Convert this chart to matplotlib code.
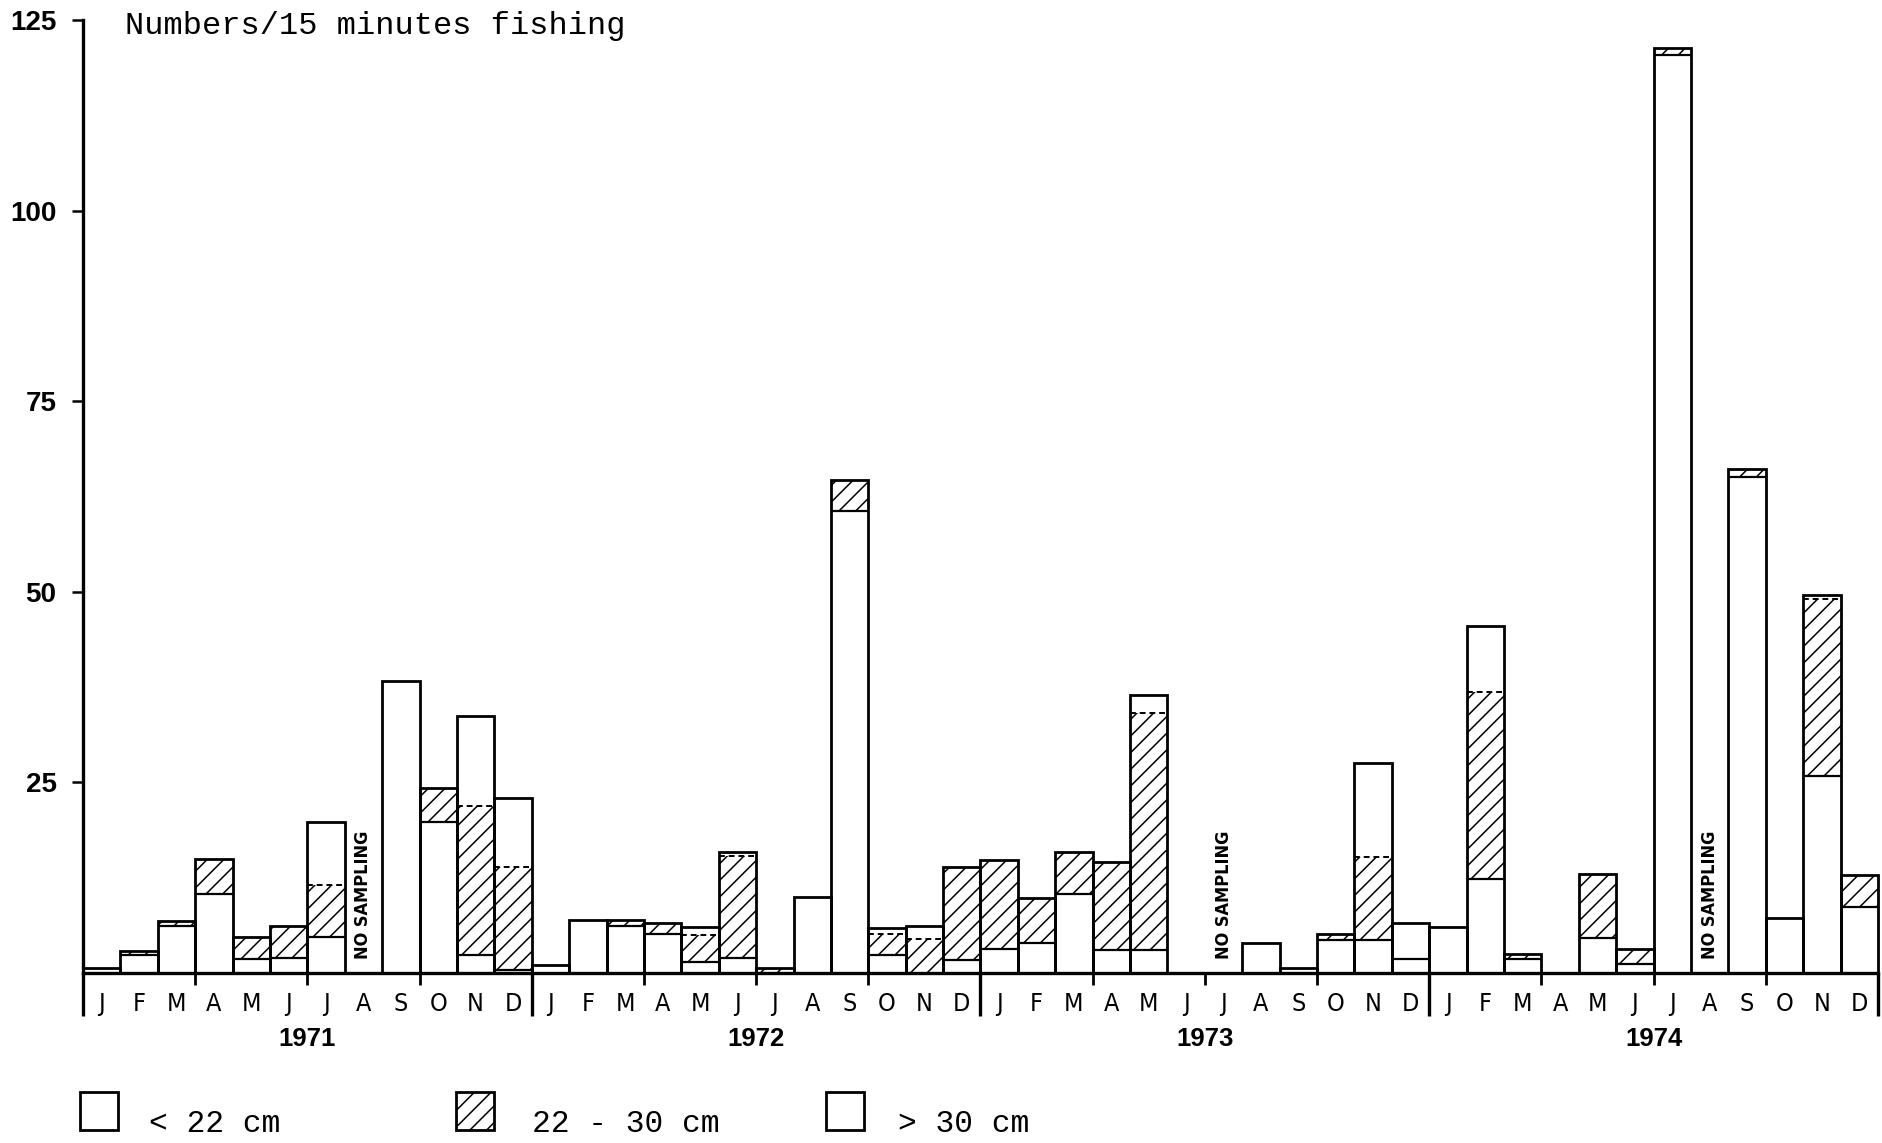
import numpy as np
import matplotlib
matplotlib.use('Agg')
import matplotlib.pyplot as plt
import matplotlib.transforms as mtransforms
from matplotlib.patches import Rectangle

plt.rcParams['hatch.color'] = 'black'
plt.rcParams['hatch.linewidth'] = 1.1

months = list('JFMAMJJASOND')
years = ['1971', '1972', '1973', '1974']

# numbers per 15 minutes fishing, Jan 1971 - Dec 1974, by length class
under22 = np.array([0.7, 2.3, 6.1, 10.3, 1.8, 2.0, 4.7, 0, 38.3, 19.8, 2.3, 0.4,
                    1.1, 7.0, 6.1, 5.1, 1.5, 2.0, 0, 10.0, 60.6, 2.4, 0, 1.7,
                    3.1, 3.9, 10.4, 3.0, 3.0, 0, 0, 3.9, 0.7, 4.3, 4.3, 1.9,
                    6.0, 12.3, 1.8, 0, 4.6, 1.2, 120.4, 0, 65.0, 7.2, 25.8, 8.7])
cm22_30 = np.array([0, 0.55, 0.75, 4.7, 2.9, 4.2, 6.9, 0, 0, 4.5, 19.6, 13.5,
                    0, 0, 0.9, 1.4, 3.5, 13.4, 0.7, 0, 4.1, 2.7, 4.4, 12.2,
                    11.7, 5.9, 5.5, 11.6, 31.1, 0, 0, 0, 0, 0.8, 10.9, 0,
                    0, 24.5, 0.7, 0, 8.4, 2.0, 0.9, 0, 1.1, 0, 23.3, 4.2])
over30 = np.array([0, 0, 0, 0, 0, 0, 8.2, 0, 0, 0, 11.8, 9.0,
                   0, 0, 0, 0, 1.0, 0.5, 0, 0, 0, 0.8, 1.8, 0,
                   0, 0, 0, 0, 2.4, 0, 0, 0, 0, 0, 12.4, 4.6,
                   0, 8.7, 0, 0, 0, 0, 0, 0, 0, 0, 0.5, 0])
no_sampling = [7, 30, 43]

W, H = 1882, 1143
fig = plt.figure(figsize=(W / 100, H / 100), dpi=100)
ax = fig.add_axes([83 / W, 1 - 973 / H, (1878 - 83) / W, (973 - 20) / H])

x = np.arange(len(under22)) + 0.5
mid_bottom = under22
top_bottom = under22 + cm22_30
total = top_bottom + over30

ax.bar(x, under22, width=1, color='white', edgecolor='none')
ax.bar(x, cm22_30, bottom=mid_bottom, width=1, color='white',
       edgecolor='black', hatch='//', linewidth=0)
ax.bar(x, over30, bottom=top_bottom, width=1, color='white', edgecolor='none')
ax.bar(x, total, width=1, fill=False, edgecolor='black', linewidth=2.0,
       clip_on=False)

# internal boundaries: solid under the hatched part, dashed under >30 cm
s1 = (under22 > 0) & (cm22_30 + over30 > 0)
ax.hlines(under22[s1], x[s1] - 0.5, x[s1] + 0.5, color='black', lw=1.6)
s2 = (over30 > 0) & (top_bottom > 0)
ax.hlines(top_bottom[s2], x[s2] - 0.5, x[s2] + 0.5, color='black', lw=1.4,
          linestyles=(0, (3, 2)))

for i in no_sampling:
    ax.text(i + 0.5, 1.8, 'NO SAMPLING', rotation=90, ha='center', va='bottom',
            fontsize=13, fontweight='bold', fontstretch='condensed',
            family='DejaVu Sans')

ax.set_xlim(0, 48)
ax.set_ylim(0, 125)
for side in ['top', 'right']:
    ax.spines[side].set_visible(False)
ax.spines['left'].set_linewidth(2.4)
ax.spines['bottom'].set_linewidth(2.4)

ax.set_yticks([25, 50, 75, 100, 125])
ax.set_yticklabels(['25', '50', '75', '100', '125'], fontsize=20,
                   fontweight='bold', family='Liberation Sans')
ax.tick_params(axis='y', direction='out', length=8, width=1.8, pad=11)
ax.set_xticks([])

trans = mtransforms.blended_transform_factory(ax.transData, ax.transAxes)
ax.vlines([0, 12, 24, 36, 48], -0.045, 0, transform=trans, clip_on=False,
          color='black', lw=2.4)
quarters = [m for m in range(1, 48) if m % 3 == 0 and m % 12 != 0]
ax.vlines(quarters, -0.013, 0, transform=trans, clip_on=False,
          color='black', lw=2)

for i in range(48):
    ax.text(i + 0.5, -0.033, months[i % 12], transform=trans, ha='center',
            va='center', fontsize=18, fontstretch='condensed',
            family='DejaVu Sans')
for k, yr in enumerate(years):
    ax.text(12 * k + 6, -0.069, yr, transform=trans, ha='center',
            va='center', fontsize=18.5, fontweight='bold',
            family='Liberation Sans')

fig.text(125 / W, 1 - 26 / H, 'Numbers/15 minutes fishing', ha='left',
         va='center', fontsize=23, family='Liberation Mono')

# legend boxes along the bottom
box_y = 1 - 1130 / H
box_w, box_h = 38 / W, 38 / H
leg = [(80, None, '< 22 cm', 149), (456, '//', '22 - 30 cm', 532),
       (826, None, '> 30 cm', 898)]
for bx, hatch, label, tx in leg:
    fig.add_artist(Rectangle((bx / W, box_y), box_w, box_h,
                             transform=fig.transFigure, facecolor='white',
                             edgecolor='black', lw=2.0, hatch=hatch))
    fig.text(tx / W, 1 - 1124 / H, label, ha='left', va='center',
             fontsize=22.5, family='Liberation Mono')

fig.savefig('out.png', dpi=100, facecolor='white')
